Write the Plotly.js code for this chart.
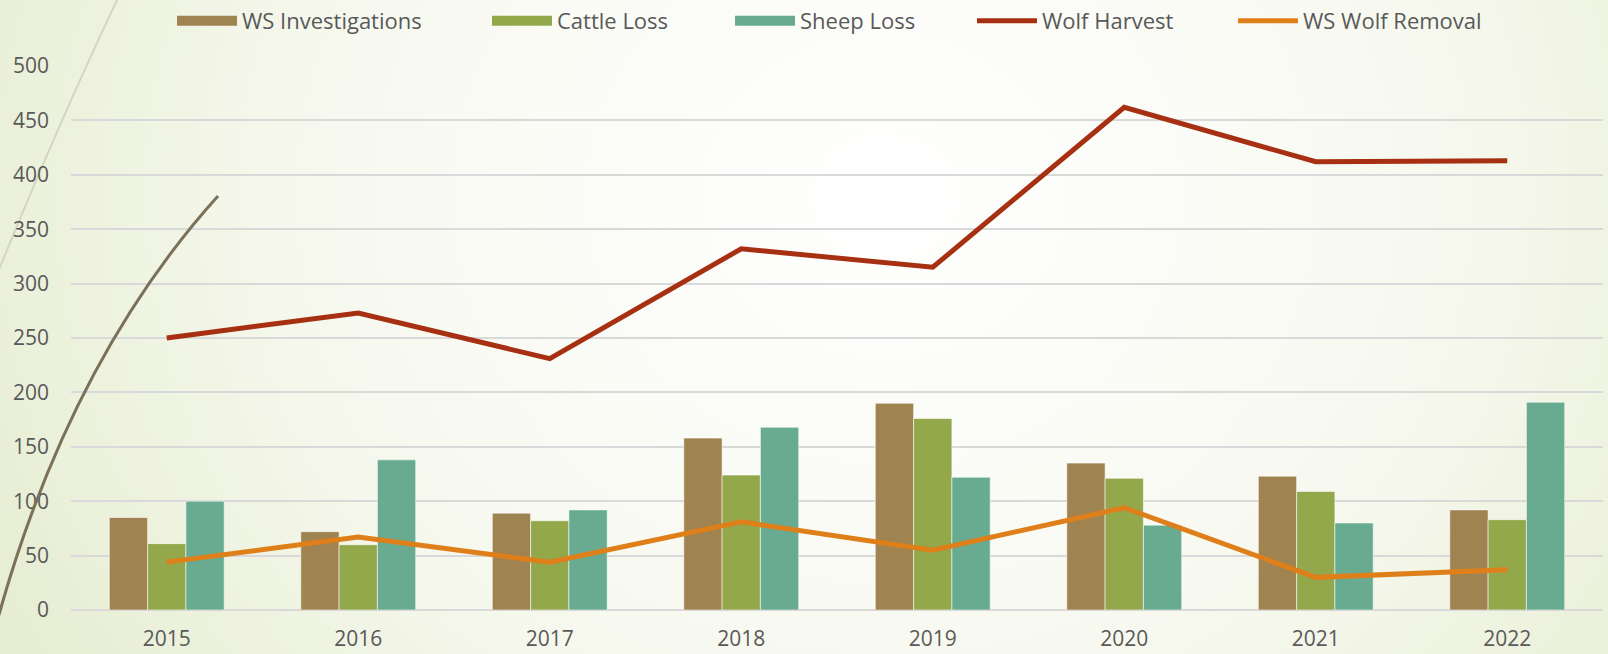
<!DOCTYPE html>
<html>
<head>
<meta charset="utf-8">
<script src="https://cdn.plot.ly/plotly-3.0.1.min.js"></script>
<style>
  html, body { margin: 0; padding: 0; background: #eef2e2; }
  #chart { width: 1608px; height: 654px; }
</style>
</head>
<body>
<div id="chart"></div>
<script>
// years on the x axis
var years = ["2015", "2016", "2017", "2018", "2019", "2020", "2021", "2022"];

// bar series
var wsInvestigations = [85, 72, 89, 158, 190, 135, 123, 92];
var cattleLoss = [61, 60, 82, 124, 176, 121, 109, 83];
var sheepLoss = [100, 138, 92, 168, 122, 78, 80, 191];

// line series
var wolfHarvest = [250, 273, 231, 332, 315, 462, 412, 413];
var wsWolfRemoval = [44, 67, 44, 81, 55, 94, 30, 37];

var yTicks = [0, 50, 100, 150, 200, 250, 300, 350, 400, 450, 500];

var colors = {
    inv: '#9f8351',
    cattle: '#92a84b',
    sheep: '#68ab90',
    harvest: '#a63011',
    removal: '#df7f1a'
};

// plot area in pixels, used for the decorative curves
var L = 71, R = 1603, T = 66, B = 610;
function px(x) { return (x - L) / (R - L); }
function py(y) { return (B - y) / (B - T); }

var barLine = {color: 'rgba(255,255,255,0.55)', width: 1};

var trace1 = {
    x: years, y: wsInvestigations, type: 'bar', name: 'WS Investigations',
    marker: {color: colors.inv, line: barLine}, showlegend: false
};
var trace2 = {
    x: years, y: cattleLoss, type: 'bar', name: 'Cattle Loss',
    marker: {color: colors.cattle, line: barLine}, showlegend: false
};
var trace3 = {
    x: years, y: sheepLoss, type: 'bar', name: 'Sheep Loss',
    marker: {color: colors.sheep, line: barLine}, showlegend: false
};
var trace4 = {
    x: years, y: wolfHarvest, type: 'scatter', mode: 'lines', name: 'Wolf Harvest',
    line: {color: colors.harvest, width: 5}, legend: 'legend4'
};
var trace5 = {
    x: years, y: wsWolfRemoval, type: 'scatter', mode: 'lines', name: 'WS Wolf Removal',
    line: {color: colors.removal, width: 5}, legend: 'legend5'
};

// wide rectangular legend keys for the bar series
function keyTrace(name, color, legendId) {
    return {
        x: [null], y: [null], type: 'scatter', mode: 'lines', name: name,
        line: {color: color, width: 13}, legend: legendId, hoverinfo: 'skip'
    };
}
var key1 = keyTrace('WS Investigations', colors.inv, 'legend');
var key2 = keyTrace('Cattle Loss', colors.cattle, 'legend2');
var key3 = keyTrace('Sheep Loss', colors.sheep, 'legend3');

// legend boxes, one per entry, left edge in pixels
function legendAt(left) {
    return {
        orientation: 'h',
        xref: 'container', yref: 'container',
        x: left / 1608, xanchor: 'left',
        y: 1.0, yanchor: 'top',
        font: {size: 22, color: '#595959', family: '"Open Sans", Lato, sans-serif'},
        itemwidth: 60,
        bgcolor: 'rgba(0,0,0,0)'
    };
}

// background gradient (pale green edges, whitish middle)
var bgSvg = '<svg xmlns="http://www.w3.org/2000/svg" width="1608" height="654">' +
    '<defs><radialGradient id="g" cx="0.55" cy="0.3" r="0.75" gradientTransform="translate(0.55 0.3) scale(1 2.2) translate(-0.55 -0.3)">' +
    '<stop offset="0" stop-color="#ffffff"/><stop offset="0.45" stop-color="#f7f9f0"/>' +
    '<stop offset="1" stop-color="#dfe8c4"/></radialGradient></defs>' +
    '<rect width="1608" height="654" fill="url(#g)"/></svg>';

var layout = {
    width: 1608,
    height: 654,
    margin: {l: L, r: 1608 - R, t: T, b: 654 - B},
    paper_bgcolor: '#eef2e2',
    plot_bgcolor: 'rgba(0,0,0,0)',
    font: {family: '"Open Sans", Lato, sans-serif', color: '#595959', size: 21},
    barmode: 'group',
    bargap: 0.4,
    bargroupgap: 0,
    showlegend: true,
    legend: legendAt(172),
    legend2: legendAt(487),
    legend3: legendAt(730),
    legend4: legendAt(972),
    legend5: legendAt(1233),
    xaxis: {
        type: 'category',
        showgrid: false,
        zeroline: false,
        showline: false,
        ticks: '',
        ticklabelstandoff: 14,
        fixedrange: true
    },
    yaxis: {
        range: [0, 500],
        tickvals: yTicks,
        showgrid: true,
        gridcolor: '#d9d9d9',
        gridwidth: 2,
        zeroline: true,
        zerolinecolor: '#d9d9d9',
        zerolinewidth: 2,
        showline: false,
        ticks: '',
        ticklabelstandoff: 21,
        fixedrange: true
    },
    images: [{
        source: 'data:image/svg+xml;charset=utf-8,' + encodeURIComponent(bgSvg),
        xref: 'paper', yref: 'paper',
        x: px(0), y: py(0), sizex: px(1608) - px(0), sizey: py(0) - py(654),
        xanchor: 'left', yanchor: 'top', sizing: 'stretch', layer: 'below'
    }],
    shapes: [
        // faint arc top left
        {
            type: 'path', xref: 'paper', yref: 'paper', layer: 'below',
            path: 'M' + px(118) + ',' + py(-2) + ' Q' + px(60) + ',' + py(120) + ' ' + px(-2) + ',' + py(272),
            line: {color: '#d3d6c3', width: 2}
        },
        // dark arc lower left
        {
            type: 'path', xref: 'paper', yref: 'paper', layer: 'above',
            path: 'M' + px(-2) + ',' + py(618) + ' Q' + px(70) + ',' + py(360) + ' ' + px(218) + ',' + py(196),
            line: {color: '#7a7158', width: 3}
        }
    ]
};

var data = [trace1, trace2, trace3, trace4, trace5, key1, key2, key3];
Plotly.newPlot('chart', data, layout, {displayModeBar: false});
</script>
</body>
</html>
